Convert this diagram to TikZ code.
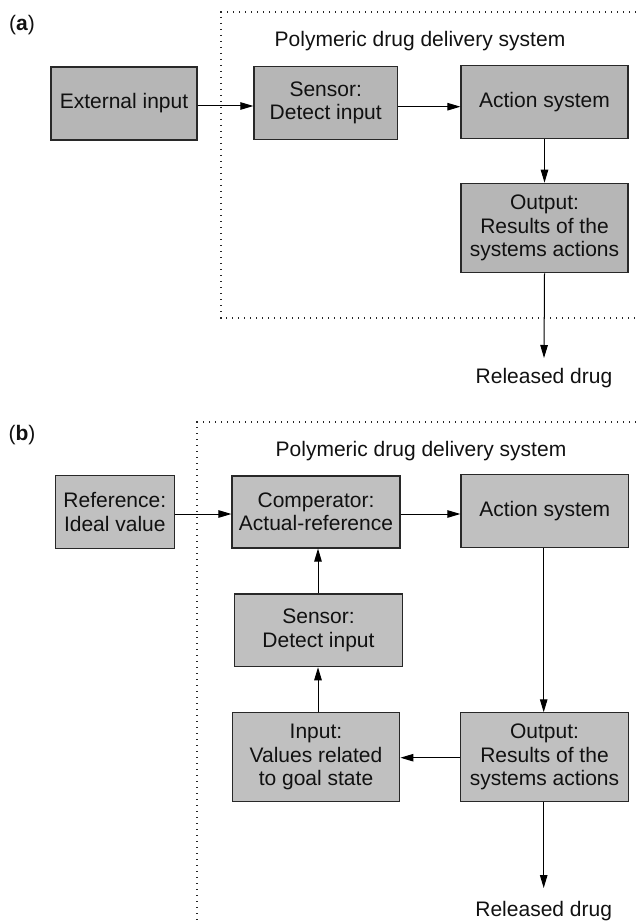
\documentclass[tikz,border=0pt]{standalone}
\usepackage{fontspec}
\setmainfont{Liberation Sans}
\usetikzlibrary{arrows.meta}
\definecolor{fillA}{RGB}{182,182,182}
\definecolor{fillB}{RGB}{192,192,192}
\definecolor{edge}{RGB}{40,40,40}
\definecolor{ink}{RGB}{17,17,17}
\begin{document}
\begin{tikzpicture}[x=1pt,y=-1pt,
  font=\fontsize{21}{23.5}\selectfont,
  every node/.style={text=ink, inner sep=0pt},
  blockA/.style={draw=edge, fill=fillA, line width=1.2pt, align=center},
  blockB/.style={draw=edge, fill=fillB, line width=1.2pt, align=center},
  arr/.style={-{Triangle[length=13pt,width=7.5pt]}, line width=1.0pt, draw=black},
  frame/.style={draw=black!85, line width=1.3pt, dash pattern=on 1.3pt off 4.7pt},
  plain/.style={align=center}
]
\useasboundingbox (0,0) rectangle (639,923);

% ---------------- (a) open-loop system ----------------
\node[plain] (labA) at (22,25) {(\textbf{a})};
\coordinate (fA1) at (636,12);
\coordinate (fA2) at (221,12);
\coordinate (fA3) at (221,318);
\coordinate (fA4) at (639,318);
\draw[frame] (fA1) -- (fA2) -- (fA3) -- (fA4);
\node[plain] (titleA) at (420,41) {Polymeric drug delivery system};

\node[blockA, minimum width=146pt, minimum height=73pt] (ext) at (124,103.5) {External input};
\node[blockA, minimum width=143.5pt, minimum height=72.5pt] (sensA) at (325.7,103) {Sensor:\\Detect input};
\node[blockA, minimum width=167pt, minimum height=72.5pt] (actA) at (544.5,102) {Action system};
\node[blockA, minimum width=167pt, minimum height=89.5pt] (outA) at (544.5,228) {Output:\\Results of the\\systems actions};
\node[plain, anchor=base] (relA) at (544,383) {Released drug};

\coordinate (yA1) at (0,106);
\coordinate (yA2) at (0,106.7);
\coordinate (tipA) at (0,358);
\draw[arr] (ext.east |- yA1) -- (sensA.west |- yA1);
\draw[arr] (sensA.east |- yA2) -- (actA.west |- yA2);
\draw[arr] (actA.south) -- (outA.north);
\draw[arr] (outA.south) -- (relA.north |- tipA);

% ---------------- (b) closed-loop system ----------------
\node[plain] (labB) at (22,435) {(\textbf{b})};
\coordinate (fB1) at (636,422);
\coordinate (fB2) at (197,422);
\coordinate (fB3) at (197,923);
\draw[frame] (fB1) -- (fB2) -- (fB3);
\node[plain] (titleB) at (421,451) {Polymeric drug delivery system};

\node[blockB, minimum width=119pt, minimum height=72.6pt] (refB) at (114.8,512) {Reference:\\Ideal value};
\node[blockB, minimum width=168pt, minimum height=72pt] (compB) at (316,512) {Comperator:\\Actual-reference};
\node[blockB, minimum width=167.5pt, minimum height=72.5pt] (actB) at (544.7,511) {Action system};
\node[blockB, minimum width=167.6pt, minimum height=72.7pt] (sensB) at (318.5,630.3) {Sensor:\\Detect input};
\node[blockB, minimum width=167.7pt, minimum height=88.3pt] (inB) at (316,757) {Input:\\Values related\\to goal state};
\node[blockB, minimum width=167.6pt, minimum height=88.3pt] (outB) at (544.5,757) {Output:\\Results of the\\systems actions};
\node[plain, anchor=base] (relB) at (543.7,916) {Released drug};

\coordinate (yB1) at (0,514);
\coordinate (xB1) at (318,0);
\coordinate (xB2) at (543.7,0);
\coordinate (yB2) at (0,757.7);
\coordinate (tipB) at (0,888);
\draw[arr] (refB.east |- yB1) -- (compB.west |- yB1);
\draw[arr] (compB.east |- yB1) -- (actB.west |- yB1);
\draw[arr] (xB2 |- actB.south) -- (xB2 |- outB.north);
\draw[arr] (outB.west |- yB2) -- (inB.east |- yB2);
\draw[arr] (xB1 |- inB.north) -- (xB1 |- sensB.south);
\draw[arr] (xB1 |- sensB.north) -- (xB1 |- compB.south);
\draw[arr] (xB2 |- outB.south) -- (xB2 |- tipB);
\end{tikzpicture}
\end{document}
